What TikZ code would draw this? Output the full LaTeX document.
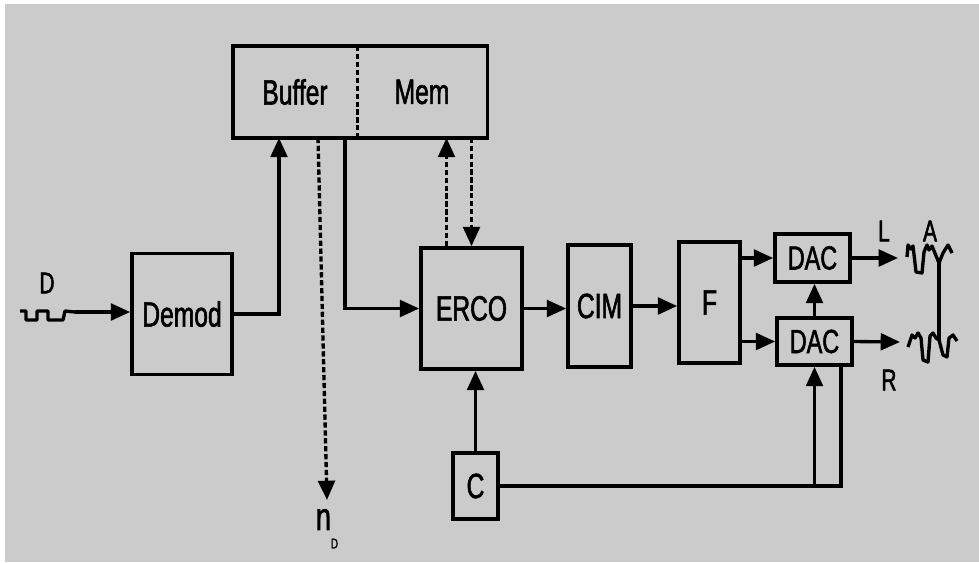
\documentclass[tikz,border=0pt]{standalone}
\usepackage{fontspec}
\setmainfont[FakeStretch=0.7,FakeBold=1.6]{Liberation Sans}
\usetikzlibrary{arrows.meta,positioning,fit}
\definecolor{Fondo}{HTML}{CBCBCB}

\begin{document}
\begin{tikzpicture}[
  x=0.02cm, y=-0.02cm,
  font=\fontsize{20}{22}\selectfont,
  blk/.style={draw,line width=2.1pt,inner sep=0pt,align=center},
  arr/.style={-{Triangle[length=11pt,width=9.5pt]},line width=1.9pt},
  dsh/.style={arr,dash pattern=on 3pt off 1.5pt},
  lbl/.style={font=\fontsize{17}{19}\selectfont},
  wave/.style={line width=1.9pt,line join=round}
]
  \useasboundingbox (0,0) rectangle (979,562);
  \fill[white] (0,0) rectangle (979,562);
  \fill[Fondo] (5,4) rectangle (979,562);

  \node[blk,minimum width=2.0cm,minimum height=2.42cm] (demod) at (182,314) {Demod};
  \node[inner sep=0pt,minimum width=2.48cm,minimum height=1.82cm] (buf) at (295,92) {Buffer};
  \node[inner sep=0pt,minimum width=2.6cm,minimum height=1.82cm] (mem) at (422,92) {Mem};
  \node[blk,fit=(buf)(mem)] (bufmem) {};
  \draw[line width=1.9pt,dash pattern=on 3pt off 1.5pt] (buf.north east) -- (buf.south east);
  \node[blk,minimum width=2.02cm,minimum height=2.42cm] (erco) at (471.5,308.5) {ERCO};
  \node[blk,minimum width=1.26cm,minimum height=2.44cm] (cim) at (599.5,306) {CIM};
  \node[blk,minimum width=1.22cm,minimum height=2.42cm] (f) at (709.5,302.5) {F};
  \node[blk,minimum width=1.5cm,minimum height=0.96cm,font=\fontsize{19}{21}\selectfont] (dacl) at (812.5,258) {DAC};
  \node[blk,minimum width=1.5cm,minimum height=0.94cm,font=\fontsize{19}{21}\selectfont] (dacr) at (814.5,341.5) {DAC};
  \node[blk,minimum width=0.9cm,minimum height=1.32cm] (c) at (475.5,486) {C};

  \node[lbl] (dlab) at (47,283) {D};
  \node[lbl] (llab) at (884,231) {L};
  \node[lbl] (alab) at (930,231) {A};
  \node[lbl] (rlab) at (889,380) {R};
  \node[anchor=north,inner xsep=0pt,inner ysep=5pt,font=\fontsize{22}{24}\selectfont] (nd) at (327,500)
    {n\raisebox{-0.9ex}{\fontsize{8}{8}\selectfont D}};

  \coordinate (dw) at (75,312);
  \coordinate (outl) at (898,258);
  \coordinate (outr) at (900,342);
  \draw[wave] (20,311) -- (26,311) -- (26,320) -- (37,320) -- (37,311) -- (48,311)
    -- (48,320) -- (63,320) -- (65,311) -- (dw);
  \draw[arr] (dw) -- (dw -| demod.west);
  \draw[arr] (demod.east) -| ([xshift=-0.32cm]buf.south);
  \draw[arr] ([xshift=1cm]buf.south) |- (erco.west);
  \draw[dsh] ([xshift=0.46cm]buf.south) -- (nd.north);
  \draw[dsh] ([xshift=-0.5cm]erco.north) -- ([xshift=-0.5cm]erco.north |- mem.south);
  \draw[dsh] (erco.north |- mem.south) -- (erco.north);
  \draw[arr] (erco.east) -- (erco.east -| cim.west);
  \draw[arr] (cim.east) -- (cim.east -| f.west);
  \draw[arr] (f.east |- dacl) -- (dacl.west);
  \draw[arr] (f.east |- dacr) -- (dacr.west);
  \draw[arr] (dacr.north) -- (dacr.north |- dacl.south);
  \draw[arr] (dacl.east) -- (outl);
  \draw[arr] (dacr.east) -- (outr);
  \draw[arr] (c.north) -- (c.north |- erco.south);
  \draw[line width=1.9pt] (c.east) -| ([xshift=0.53cm]dacr.south);
  \draw[arr] (dacr.south |- c.east) -- (dacr.south);

  \draw[wave] (907,257) -- (908,245) -- (911,249) -- (913,246) -- (916,272) -- (922,273)
    -- (924,252) -- (927,245) -- (929,250) -- (932,246) -- (939,263) -- (943,253)
    -- (948,245) -- (952,253);
  \draw[wave] (908,347) -- (912,335) -- (915,338) -- (918,333) -- (921,338) -- (923,360)
    -- (928,362) -- (930,336) -- (933,333) -- (936,338) -- (939,340) -- (943,355)
    -- (947,357) -- (949,338) -- (953,335) -- (957,341);
  \draw[wave] (939,263) -- (939,340);
\end{tikzpicture}
\end{document}
